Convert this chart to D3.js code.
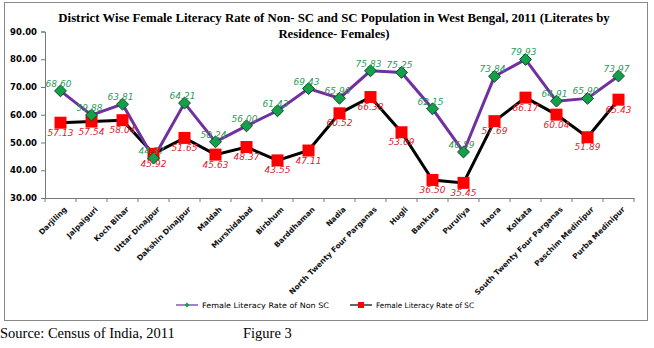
<!DOCTYPE html>
<html><head><meta charset="utf-8">
<script src="https://cdn.jsdelivr.net/npm/d3@7"></script>
<style>body{margin:0;background:#fff}</style>
</head><body>
<svg id="c" width="654" height="348"></svg>
<script>
const categories = ["Darjiling","Jalpaiguri","Koch Bihar","Uttar Dinajpur","Dakshin Dinajpur","Maldah","Murshidabad","Birbhum","Barddhaman","Nadia","North Twenty Four Parganas","Hugli","Bankura","Puruliya","Haora","Kolkata","South Twenty Four Parganas","Paschim Medinipur","Purba Medinipur"];
const nonSC = [68.60,59.88,63.81,44.37,64.21,50.24,56.00,61.43,69.43,65.96,75.83,75.25,62.15,46.59,73.84,79.93,64.91,65.90,73.97];
const sc = [57.13,57.54,58.04,45.92,51.65,45.63,48.37,43.55,47.11,60.52,66.38,53.69,36.50,35.45,57.69,66.17,60.04,51.89,65.43];
const yTicks = [30,40,50,60,70,80,90];
const seriesNames = ["Female Literacy Rate of Non SC","Female Literacy Rate of SC"];

const svg = d3.select("#c");
svg.append("rect").attr("x",4.5).attr("y",2.5).attr("width",643).attr("height",318)
  .attr("fill","none").attr("stroke","#888").attr("stroke-width",1);

const x = d3.scaleBand().domain(categories).range([45,634]);
const y = d3.scaleLinear().domain([30,90]).range([198,31.5]);

const title = svg.append("text").attr("text-anchor","middle")
  .style("font-family","'Liberation Serif', serif").style("font-weight","bold").style("font-size","12.8px").attr("fill","#000");
title.append("tspan").attr("x",334).attr("y",22).text("District Wise Female Literacy Rate of Non- SC and SC Population in West Bengal, 2011 (Literates by");
title.append("tspan").attr("x",334).attr("y",38).text("Residence- Females)");

const ya = svg.append("g").attr("transform","translate(45,0)")
  .call(d3.axisLeft(y).tickValues(yTicks).tickFormat(d3.format(".2f")).tickSize(4).tickPadding(4));
ya.selectAll("text").style("font-family","'DejaVu Sans', sans-serif").style("font-weight","bold").style("font-size","8.5px").attr("fill","#000");
ya.selectAll("line,path").attr("stroke","#777");

const xa = svg.append("g").attr("transform","translate(0,198)")
  .call(d3.axisBottom(x).tickSize(0).tickFormat(""));
xa.selectAll("path").attr("stroke","#777");
const bounds = categories.map(c=>x(c)).concat([x.range()[1]]);
svg.append("g").selectAll("line").data(bounds).join("line")
  .attr("x1",d=>d).attr("x2",d=>d).attr("y1",198).attr("y2",202).attr("stroke","#777");
svg.append("g").selectAll("text").data(categories).join("text")
  .attr("transform",d=>`translate(${x(d)+x.bandwidth()/2+5},${208}) rotate(-45)`)
  .attr("text-anchor","end").attr("dy","0.35em")
  .style("font-family","'DejaVu Sans', sans-serif").style("font-weight","bold").style("font-size","7.5px")
  .attr("fill","#111").text(d=>d);

const cx = (d,i)=>x(categories[i])+x.bandwidth()/2;
const line = d3.line().x((d,i)=>cx(d,i)).y(d=>y(d));

svg.append("path").datum(sc).attr("d",line).attr("fill","none").attr("stroke","#000").attr("stroke-width",3);
svg.append("path").datum(nonSC).attr("d",line).attr("fill","none").attr("stroke","#7030a0").attr("stroke-width",3);

svg.append("g").selectAll("rect").data(sc).join("rect")
  .attr("x",(d,i)=>cx(d,i)-6).attr("y",d=>y(d)-6).attr("width",12).attr("height",12)
  .attr("fill","#ff0000");
const dia = d3.symbol().type(d3.symbolDiamond2).size(90);
svg.append("g").selectAll("path").data(nonSC).join("path")
  .attr("d",dia).attr("transform",(d,i)=>`translate(${cx(d,i)},${y(d)})`)
  .attr("fill","#13a04a").attr("stroke","#0a4a20").attr("stroke-width",1);

const lblFont = sel => sel.style("font-family","'DejaVu Sans', sans-serif").style("font-style","italic").style("font-size","9px");
svg.append("g").selectAll("text").data(nonSC).join("text")
  .attr("x",(d,i)=>cx(d,i)-2).attr("y",d=>y(d)-4).attr("text-anchor","middle")
  .call(lblFont).attr("fill","#2c9a5a").text(d=>d3.format(".2f")(d));
svg.append("g").selectAll("text").data(sc).join("text")
  .attr("x",(d,i)=>cx(d,i)).attr("y",d=>y(d)+13).attr("text-anchor","middle")
  .call(lblFont).attr("fill","#e0202a").text(d=>d3.format(".2f")(d));

const lg = svg.append("g");
const legItems = [{n:seriesNames[0],c:"#7030a0",m:"dia",x:202,w:127},{n:seriesNames[1],c:"#000",m:"sq",x:376,w:98}];
legItems.forEach(it=>{
  lg.append("line").attr("x1",it.x-26).attr("x2",it.x-4).attr("y1",305).attr("y2",305).attr("stroke",it.c).attr("stroke-width",1.2);
  if(it.m==="dia"){
    lg.append("path").attr("d",d3.symbol().type(d3.symbolDiamond2).size(16)).attr("transform",`translate(${it.x-15},305)`).attr("fill","#13a04a");
  } else {
    lg.append("rect").attr("x",it.x-18).attr("y",302).attr("width",6).attr("height",6).attr("fill","#ff0000");
  }
  lg.append("text").attr("x",it.x).attr("y",308).attr("textLength",it.w).attr("lengthAdjust","spacingAndGlyphs")
    .style("font-family","'DejaVu Sans', sans-serif").style("font-size","7.5px").attr("fill","#000").text(it.n);
});

const foot = sel => sel.style("font-family","'Liberation Serif', serif").style("font-size","14.5px").attr("fill","#000");
svg.append("text").attr("x",0).attr("y",338).call(foot).text("Source: Census of India, 2011");
svg.append("text").attr("x",243).attr("y",338).call(foot).text("Figure 3");
</script>
</body></html>
